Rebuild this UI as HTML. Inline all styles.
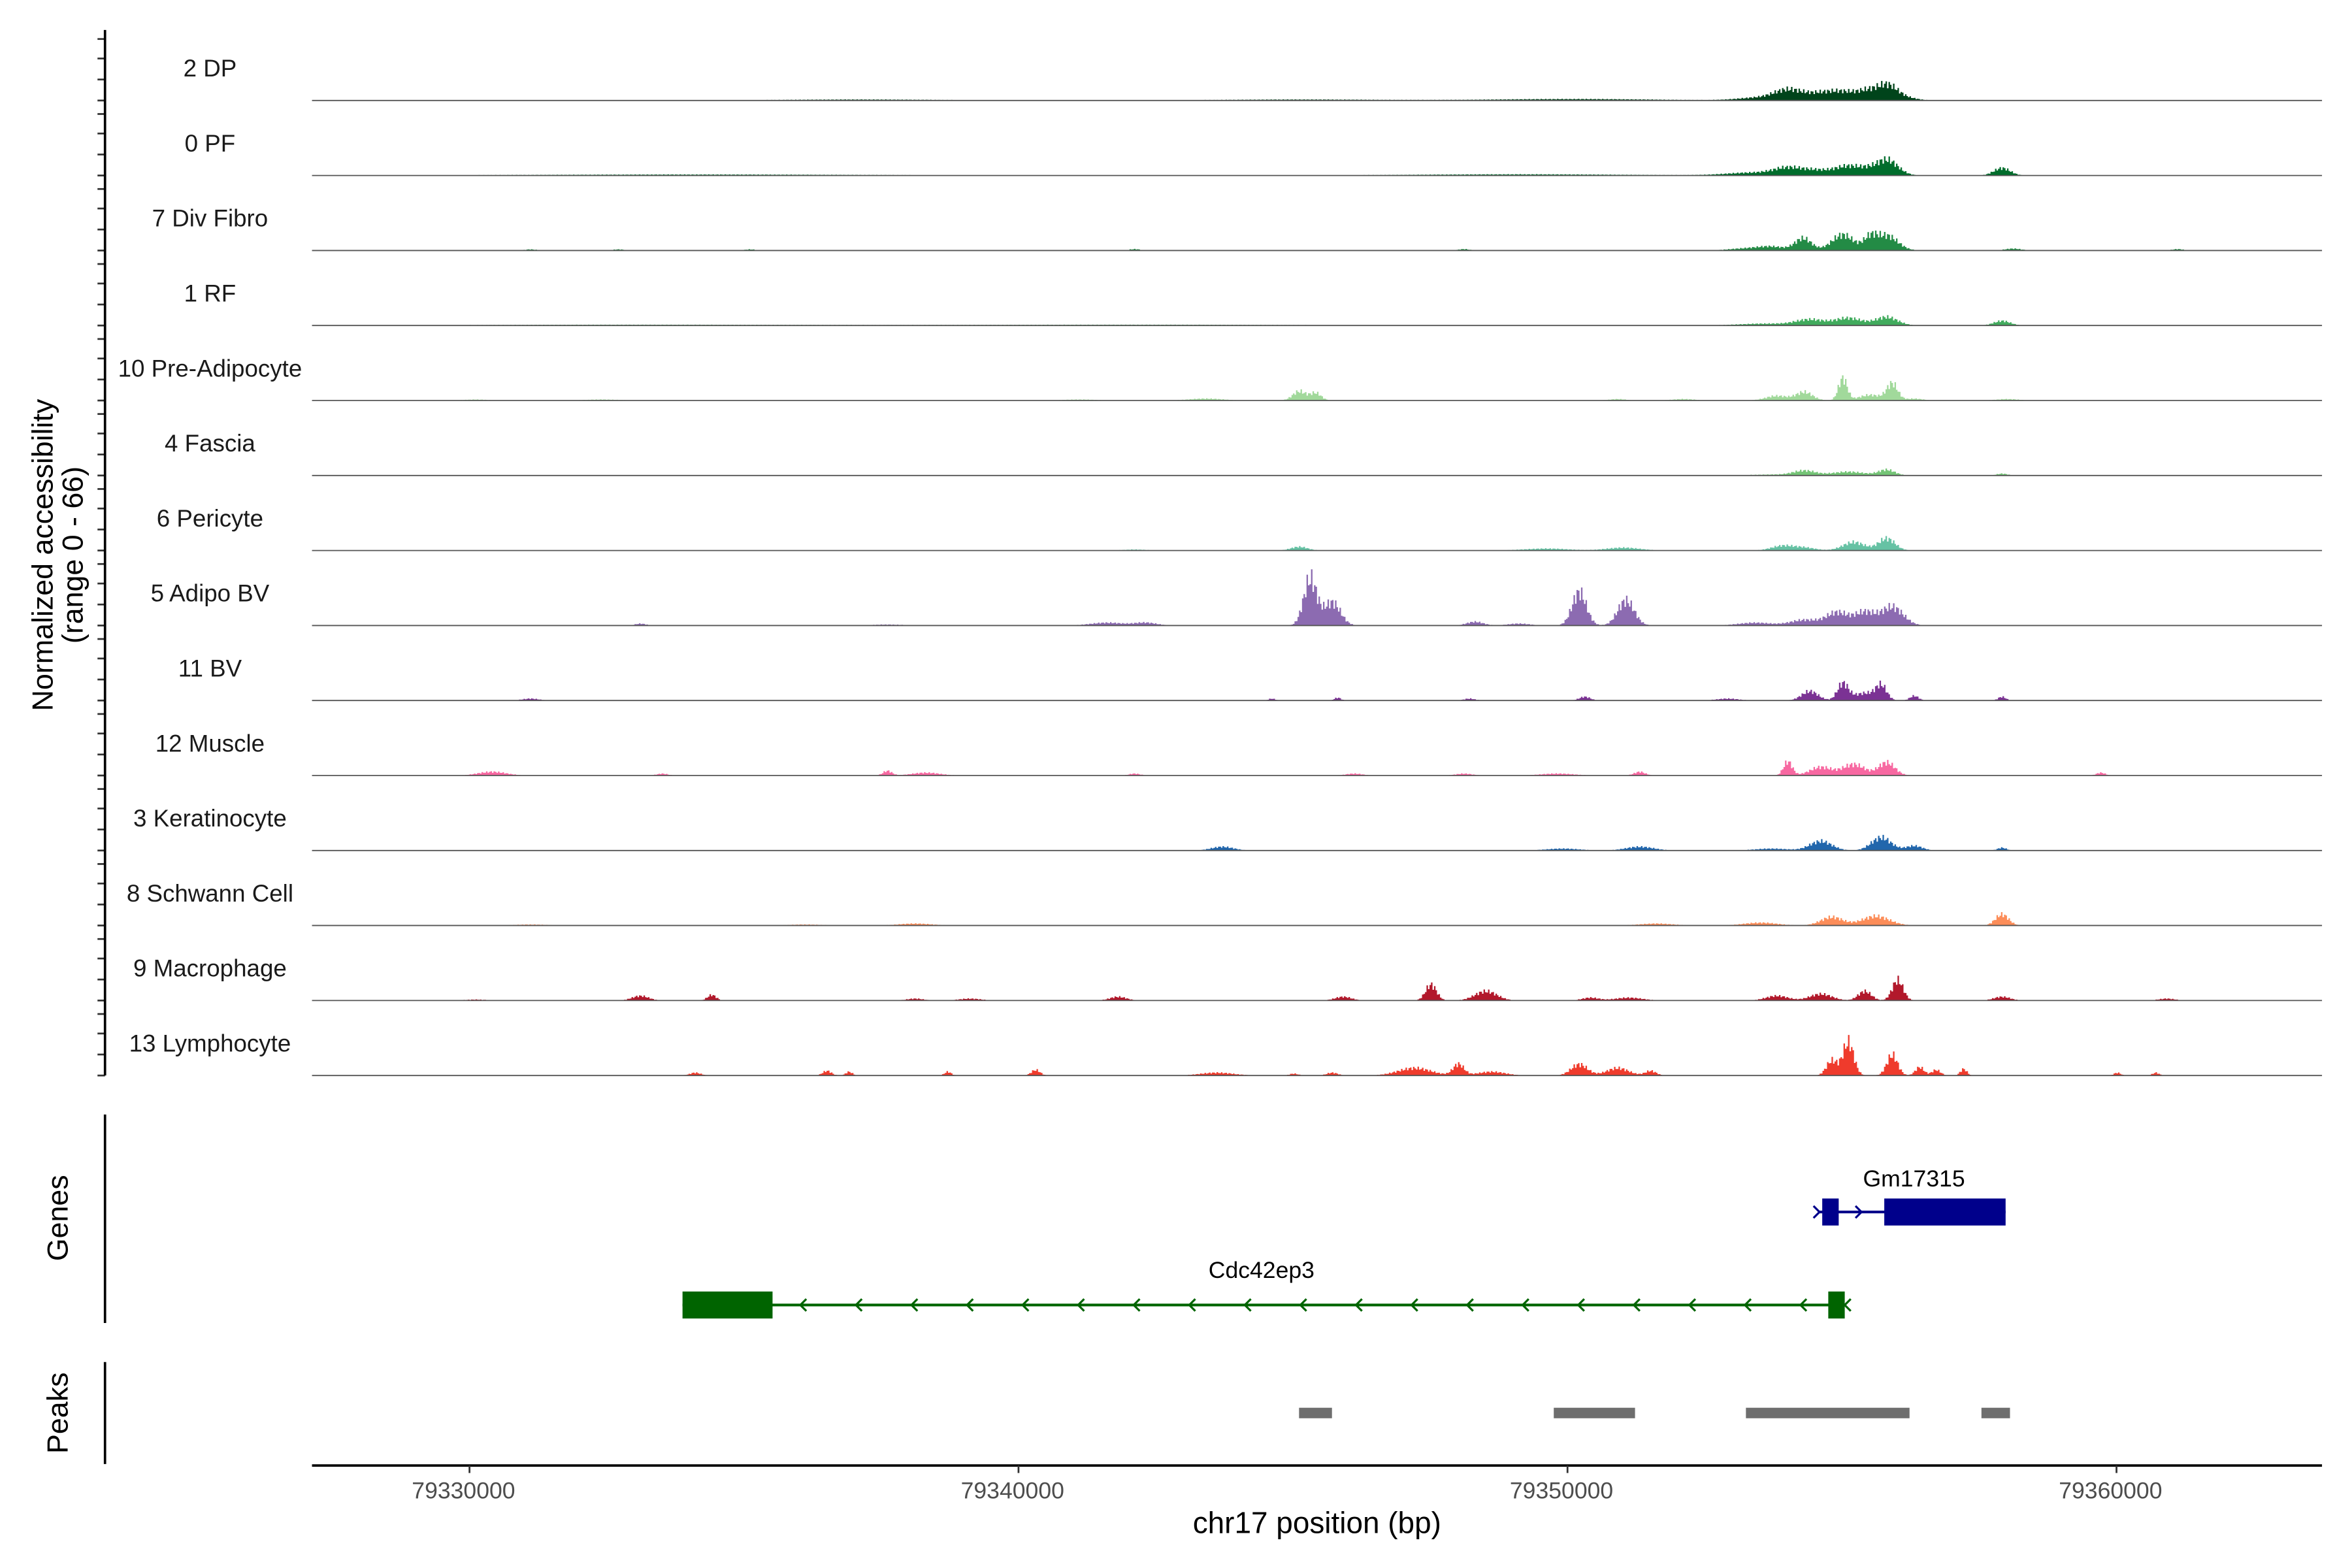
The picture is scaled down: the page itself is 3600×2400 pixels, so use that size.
<!DOCTYPE html>
<html><head><meta charset="utf-8"><style>
html,body{margin:0;padding:0;background:#fff;}
svg{display:block;font-family:"Liberation Sans",sans-serif;}
</style></head><body>
<svg id="chart" width="3600" height="2400" viewBox="0 0 1568 1045.33" xmlns="http://www.w3.org/2000/svg">
<g id="tracks"></g>
<g id="axes"></g>
</svg>
<script>
const trackNames = ["2 DP","0 PF","7 Div Fibro","1 RF","10 Pre-Adipocyte","4 Fascia","6 Pericyte","5 Adipo BV","11 BV","12 Muscle","3 Keratinocyte","8 Schwann Cell","9 Macrophage","13 Lymphocyte"];
const trackColors = ["#00441b","#006d2c","#238b45","#41ab5d","#a1d99b","#74c476","#66c2a4","#8c6bb1","#7b3294","#f768a1","#2166ac","#fc8d59","#b2182b","#ef3b2c"];
// peaks: [center bp, height (0-66), sigma bp]
const peaks0 = [[79353500,3,400],[79354000,10,250],[79354600,7,300],[79355100,8,300],[79355430,5,150],[79355800,17,200],[79356200,2,200],[79337100,1,1500],[79350100,1.5,1500],[79345100,1,1500]];
const peaks1 = [[79353400,3,500],[79354000,7,250],[79354500,5,250],[79355100,10,250],[79355430,3,150],[79355800,17,200],[79357900,8,150],[79349100,1.2,2000],[79334100,1,3000]];
const peaks2 = [[79354280,13,150],[79355000,17,200],[79355500,12,120],[79355800,16,200],[79353700,4,250],[79353200,2,300],[79358100,2,150],[79331100,1.2,100],[79332700,1.2,100],[79335100,1.2,100],[79348100,1.5,100],[79342100,1.5,100],[79361100,1.5,100]];
const peaks3 = [[79354400,6,250],[79355100,8,250],[79355800,9,200],[79357900,5,150],[79353600,2,500],[79342100,0.8,3000],[79333100,0.8,3000]];
const peaks4 = [[79345100,10,120],[79345400,8,100],[79355000,24,80],[79355900,18,100],[79354300,9,150],[79353800,5,200],[79355500,6,200],[79356300,2,150],[79352100,1.5,200],[79350900,1.5,150],[79343400,2,300],[79341100,1,300],[79332400,1,300],[79330100,1,200],[79358000,1.5,200]];
const peaks5 = [[79354300,5,200],[79355100,4,300],[79355800,6,150],[79357900,2,100],[79353700,1,400]];
const peaks6 = [[79345100,4,150],[79349600,2,400],[79351000,3,300],[79353900,5,200],[79355200,9,200],[79355800,13,150],[79354300,3,200],[79342100,1,200]];
const peaks7 = [[79345300,50,120],[79345700,25,150],[79350200,36,130],[79351050,27,150],[79354900,14,200],[79355400,14,180],[79355900,20,200],[79354300,6,250],[79353400,3,300],[79341600,3,300],[79342300,3,200],[79348300,4,150],[79349100,2,200],[79333100,2,100],[79337600,1,300]];
const peaks8 = [[79354400,10,150],[79355000,18,100],[79355700,15,100],[79355400,8,200],[79356300,5,80],[79357900,4,70],[79344600,2,60],[79345800,3,60],[79350300,4,100],[79348200,2,100],[79331100,2,150],[79352900,2,200]];
const peaks9 = [[79354000,15,80],[79354600,9,200],[79355200,12,200],[79355800,14,150],[79330400,4,250],[79333500,2,100],[79337600,5,80],[79338300,3,250],[79342100,2,100],[79346100,2,150],[79348100,2,150],[79349800,2,300],[79351300,4,100],[79359700,3,80]];
const peaks10 = [[79354600,10,200],[79355700,14,180],[79356300,5,150],[79343700,4,200],[79351300,4,250],[79349900,2,300],[79353700,2,300],[79357900,3,80]];
const peaks11 = [[79354800,9,200],[79355600,10,250],[79353500,3,300],[79357900,12,120],[79351600,2,300],[79338100,2,300],[79336100,1,300],[79331100,1,300]];
const peaks12 = [[79347500,17,100],[79348500,10,200],[79356000,22,100],[79355400,10,120],[79354600,7,200],[79353800,5,200],[79333100,5,150],[79334400,6,80],[79341800,4,150],[79345900,4,150],[79350400,3,150],[79351100,3,250],[79357900,4,150],[79360900,2,150],[79339100,2,200],[79330100,1,200],[79338100,2,150]];
const peaks13 = [[79355100,36,100],[79354800,16,100],[79355900,22,100],[79356400,9,80],[79356700,6,80],[79347200,8,300],[79348000,12,100],[79348600,4,250],[79350200,12,150],[79350900,8,200],[79351500,5,100],[79357200,7,60],[79336500,5,80],[79336900,4,60],[79340300,6,80],[79338700,4,60],[79334100,3,100],[79343600,3,300],[79345700,3,100],[79360000,3,60],[79360700,3,60],[79345000,2,80]];
const allPeaks = [peaks0,peaks1,peaks2,peaks3,peaks4,peaks5,peaks6,peaks7,peaks8,peaks9,peaks10,peaks11,peaks12,peaks13];
const xTicks = [79330000,79340000,79350000,79360000];
const xTickLabels = ["79330000","79340000","79350000","79360000"];
const geneNames = ["Cdc42ep3","Gm17315"];
const geneStarts = [79333880,79354590];
const geneEnds = [79355050,79357980];
const geneStrands = [-1,1];
const geneExons = [[[79333880,79335520],[79354750,79355050]],[[79354640,79354940],[79355770,79357980]]];
const peakStarts = [79345110,79349750,79353250,79357540];
const peakEnds = [79345710,79351230,79356230,79358060];
const yMax = 66;

const NS="http://www.w3.org/2000/svg";
const X0=208, X1=1548;
function xs(bp){return 313+(bp-79330000)*0.0366;}
function ys(v,base){return base - v/yMax*50;}
function mk(tag,attrs,parent){const e=document.createElementNS(NS,tag);for(const k in attrs)e.setAttribute(k,attrs[k]);parent.appendChild(e);return e;}
const tg=document.getElementById('tracks'), ag=document.getElementById('axes');

allPeaks.forEach((pk,i)=>{
  const base=67+i*50;
  const g=mk('g',{},tg);
  
  
  let d='M'+X0+','+base;
  for(let px=X0;px<=X1;px+=1){
    const bp=79330000+(px-313)*27.32;
    let v=0;
    for(const p of pk){const z=(bp-p[0])/p[2];if(Math.abs(z)<4)v+=p[1]*Math.exp(-0.5*z*z)*(0.8+0.2*Math.cos(px*2.3+i));}
    if(v<0.25)v=0;
    v=Math.min(v,yMax);
    const y=ys(v,base);
    d+=' L'+px+','+y.toFixed(2)+' L'+(px+1)+','+y.toFixed(2);
  }
  d+=' L'+(X1+1)+','+base+' Z';
  const area=mk('path',{d:d,fill:trackColors[i],stroke:'none'},g);
  
  
  const bl=mk('line',{x1:X0,x2:X1,y1:base,y2:base,stroke:'#555','stroke-width':0.8},g);
  
  
  const t=mk('text',{x:140,y:base-16,'text-anchor':'middle','font-size':16,fill:'#1a1a1a'},g);
  t.textContent=trackNames[i];
  
  
  [0,14,28,41].forEach(o=>{const tk=mk('line',{x1:65,x2:70,y1:base-o,y2:base-o,stroke:'#333','stroke-width':1.2},ag);
    
    });
});
[[20,717],[743,882],[908,976]].forEach(r=>{const l=mk('line',{x1:70,x2:70,y1:r[0],y2:r[1],stroke:'#000','stroke-width':1.6},ag);
  
  });
let yt=mk('text',{transform:'translate(35,370) rotate(-90)','text-anchor':'middle','font-size':19.5,fill:'#000'},ag);
yt.textContent='Normalized accessibility';


let yt2=mk('text',{transform:'translate(55,370) rotate(-90)','text-anchor':'middle','font-size':19.5,fill:'#000'},ag);
yt2.textContent='(range 0 - 66)';


let gt=mk('text',{transform:'translate(45,812) rotate(-90)','text-anchor':'middle','font-size':19.5,fill:'#000'},ag);
gt.textContent='Genes';


let pt=mk('text',{transform:'translate(45,942) rotate(-90)','text-anchor':'middle','font-size':19.5,fill:'#000'},ag);
pt.textContent='Peaks';



const geneColors=['#006400','#00008b'], geneY=[870,808];
geneNames.forEach((n,i)=>{
  const g=mk('g',{},ag);
  
  
  const c=geneColors[i], y=geneY[i], s=geneStrands[i];
  mk('line',{x1:xs(geneStarts[i]),x2:xs(geneEnds[i]),y1:y,y2:y,stroke:c,'stroke-width':1.8},g);
  geneExons[i].forEach(e=>{const r=mk('rect',{x:xs(e[0]),y:y-9,width:xs(e[1])-xs(e[0]),height:18,fill:c},g);
    
    });
  const chev=[];
  for(let k=0;k<geneExons[i].length-1;k++){
    const a=geneExons[i][k][1], b=geneExons[i][k+1][0];
    const n2=Math.max(1,Math.floor((b-a)/1000));
    const sp=(b-a)/n2;
    for(let j=0;j<n2;j++)chev.push(a+sp*(j+0.5));
  }
  chev.push(s<0?geneEnds[i]:geneStarts[i]);
  chev.forEach(bp=>{
    const x=xs(bp);
    const ch=mk('path',{d:`M${x-4*s},${y-4} L${x},${y} L${x-4*s},${y+4}`,fill:'none',stroke:c,'stroke-width':1.4},g);
    
    
  });
  const lab=mk('text',{x:i==0?841:1276,y:i==0?852:791,'text-anchor':'middle','font-size':15.5,fill:'#000'},g);
  lab.textContent=n;
  
  
});
peakStarts.forEach((s,i)=>{const r=mk('rect',{x:xs(s),y:938.5,width:xs(peakEnds[i])-xs(s),height:7,fill:'#6e6e6e'},ag);
  
  });
const xl=mk('line',{x1:X0,x2:X1,y1:977,y2:977,stroke:'#000','stroke-width':1.6},ag);


xTicks.forEach((t,i)=>{
  const tk=mk('line',{x1:xs(t),x2:xs(t),y1:977,y2:982,stroke:'#333','stroke-width':1.2},ag);
  
  
  const tl=mk('text',{x:xs(t)-4,y:999,'text-anchor':'middle','font-size':15.5,fill:'#4d4d4d'},ag);
  tl.textContent=xTickLabels[i];
  
  
});
const xt=mk('text',{x:878,y:1022,'text-anchor':'middle','font-size':20,fill:'#000'},ag);
xt.textContent='chr17 position (bp)';


</script>
</body></html>
